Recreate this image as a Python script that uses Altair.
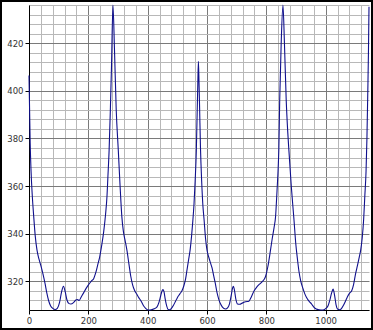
import altair as alt
import pandas as pd

# Points
xs = [0, 2, 4, 7, 11, 16, 21, 27, 33, 40, 47, 54, 60, 66, 73, 80, 88, 96, 103, 110,
      116, 122, 128, 134, 141, 150, 158, 163, 169, 176, 183, 192, 200, 210, 218, 225,
      232, 238, 245, 252, 258, 263, 266, 270, 274, 278, 283, 288, 294, 301, 307, 313,
      318, 324, 330, 337, 343, 349, 356, 363, 370, 378, 386, 394, 402, 412, 422, 431,
      438, 444, 449, 452, 455, 459, 464, 469, 474, 480, 487, 494, 500, 508, 516, 522,
      528, 533, 538, 543, 548, 552, 556, 560, 564, 567, 569, 571, 573, 575, 578, 582,
      586, 590, 595, 600, 606, 612, 617, 622, 628, 634, 640, 645, 652, 662, 670, 676,
      681, 686, 689, 692, 697, 703, 710, 720, 730, 741, 750, 758, 768, 778, 786, 797,
      805, 814, 820, 826, 831, 836, 840, 842, 845, 850, 856, 861, 867, 872, 876, 884,
      893, 899, 905, 910, 916, 923, 930, 938, 945, 952, 960, 968, 978, 990, 1000, 1008,
      1014, 1020, 1025, 1030, 1035, 1040, 1046, 1052, 1060, 1067, 1073, 1080, 1088,
      1094, 1101, 1107, 1113, 1118, 1123, 1128, 1132, 1136, 1139, 1142, 1144, 1146]
ys = [406.5, 392, 378, 366, 356, 347, 339, 333, 329.5, 326.5, 323, 319, 315, 311.8,
      309.5, 308.5, 308, 308.6, 311, 315.5, 317.8, 315.5, 312, 310.6, 310.3, 310.9, 312,
      312.2, 311.8, 313.3, 314.8, 316.8, 318.3, 320, 321, 323.5, 327, 330, 335, 341, 348,
      356, 364, 375, 391, 410, 436.2, 418, 392, 375, 360, 347, 341, 337, 333, 327, 322,
      318.5, 316, 314.5, 313, 311.5, 309.6, 308.4, 307.8, 307.9, 308.3, 309, 311, 313.8,
      316, 316.4, 315.5, 312.5, 309.5, 308, 307.9, 308.5, 309.8, 311.5, 313, 314.5, 316,
      318, 321, 325, 329, 333, 339, 345, 352, 362, 375, 392, 403, 412.5, 404, 393, 376,
      362, 352, 346, 338, 333, 330, 327.5, 325.5, 322.5, 319, 315, 312.2, 310.5, 309,
      308.2, 308.8, 310.5, 313.5, 317, 317.8, 316.5, 312.5, 310.3, 310.2, 310.8, 311.3,
      311.5, 313.5, 315.7, 317.5, 318.8, 319.7, 321.8, 326, 333, 338, 342.5, 347, 358,
      368, 375, 396, 420, 436.2, 420, 396, 383, 375, 360, 346, 336, 329, 324, 320, 317,
      314.5, 312.5, 311.3, 310.4, 309, 308.2, 307.9, 307.8, 308.4, 309.6, 312, 315, 316.6,
      314, 310, 308.2, 307.9, 308.2, 309.8, 311.6, 313.3, 314.8, 316, 318.5, 323.2, 326.5,
      330, 333, 338, 346, 356, 366, 380, 400, 415, 435.5]

x_ticks = list(range(0, 1146, 40))
y_ticks = list(range(308, 437, 4))

df = pd.DataFrame({"x": xs, "y": ys})

W, H = 340, 305
PAD = {"left": 29, "top": 5, "right": 4, "bottom": 20}

def axis(vals, major_test, orient):
    return alt.Axis(
        values=vals,
        orient=orient,
        title=None,
        grid=True,
        gridColor={"condition": {"test": major_test, "value": "#7a7a7a"}, "value": "#b8b8b8"},
        gridWidth=1,
        labelExpr=f"{major_test} ? datum.label : ''",
        labelOverlap=False,
        labelFlush=False,
        labelFont="DejaVu Sans",
        labelFontSize=8.5,
        labelColor="#333333",
        labelPadding=2,
        tickSize=4,
        tickColor="#000000",
        tickOpacity={"condition": {"test": major_test, "value": 1}, "value": 0},
        domainColor="#000000",
        domainWidth=1,
        format="d",
    )

line = alt.Chart(df).mark_line(color="#10108c", strokeWidth=1.1, interpolate="monotone").encode(
    x=alt.X("x:Q", scale=alt.Scale(domain=[0, 1146], nice=False, zero=False),
            axis=axis(x_ticks, "datum.value % 200 === 0", "bottom")),
    y=alt.Y("y:Q", scale=alt.Scale(domain=[307.8, 436.2], nice=False, zero=False),
            axis=axis(y_ticks, "datum.value % 20 === 0", "left")),
)

frame = alt.Chart(alt.Data(values=[{}])).mark_rect(
    fill=None, stroke="#000000", strokeWidth=2, clip=False
).encode(
    x=alt.value(-PAD["left"] + 1), x2=alt.value(W + PAD["right"] - 1),
    y=alt.value(-PAD["top"] + 1), y2=alt.value(H + PAD["bottom"] - 1),
)

chart = alt.layer(line, frame).properties(
    width=W, height=H,
    autosize=alt.AutoSizeParams(type="none"),
    padding=PAD,
    background="#ffffff",
).configure_view(stroke=None)

chart.save("out.html", embed_options={"renderer": "svg", "actions": False})
